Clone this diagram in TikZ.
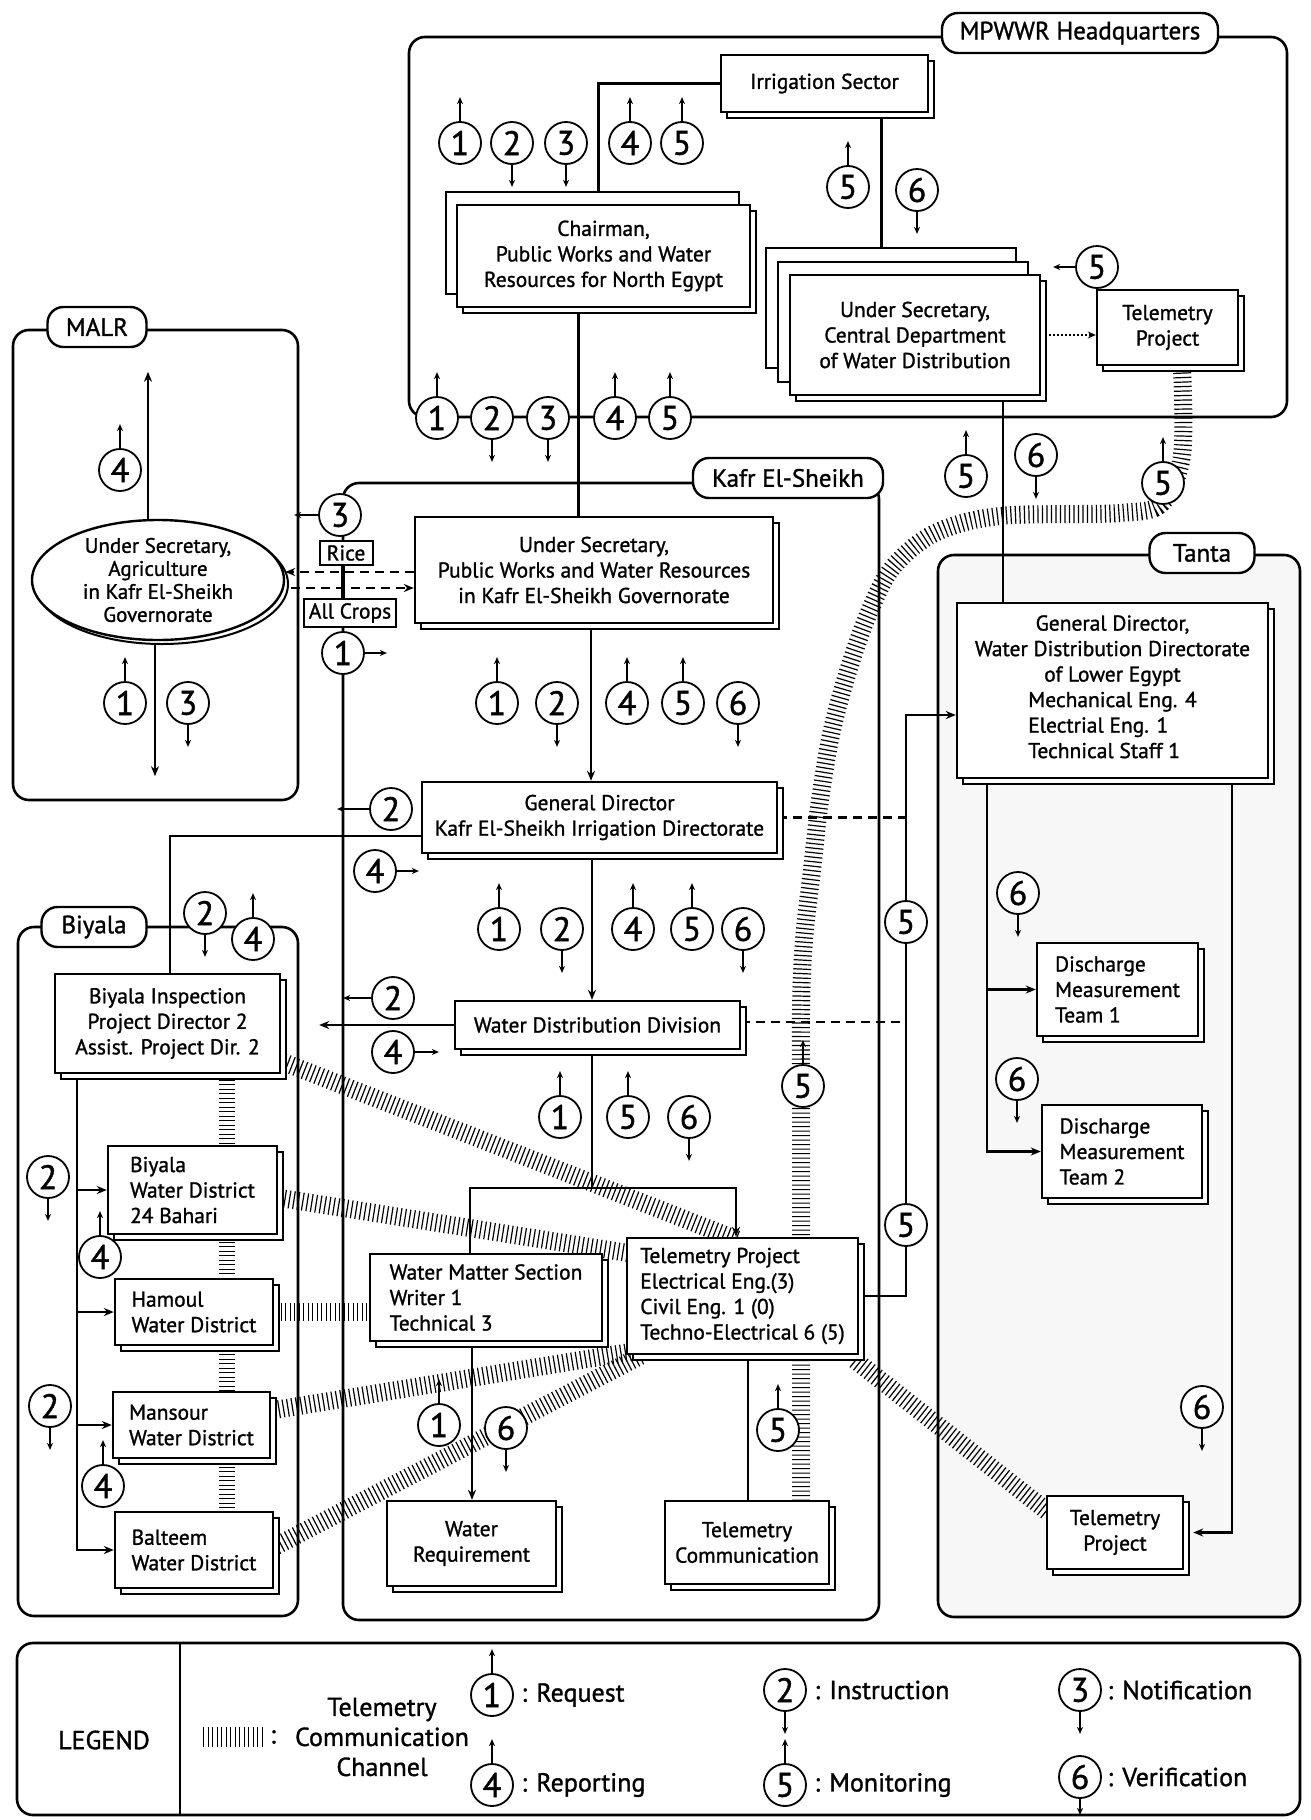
\documentclass[tikz,border=0pt]{standalone}
\usepackage{fontspec}
\setmainfont{PT Sans}[FakeBold=1.2]
\usetikzlibrary{arrows.meta,shapes.geometric,shadows,calc}
\pgfdeclarelayer{back}
\pgfdeclarelayer{chan}
\pgfdeclarelayer{lines}
\pgfsetlayers{back,chan,lines,main}
\newcommand\bxf{\fontsize{21.5}{25.5}\selectfont}
\newcommand\nmf{\fontsize{34}{34}\selectfont}
\newcommand\plf{\fontsize{25}{27}\selectfont}
\newcommand\lgf{\fontsize{26}{30}\selectfont}
\tikzset{
  num/.style={circle, draw, line width=1.8pt, fill=white, minimum size=42pt, inner sep=0pt, font=\nmf},
  sarr/.style={line width=1.8pt, -{Stealth[length=7pt,width=6pt]}},
  conn/.style={line width=2.6pt},
  carr/.style={conn, -{Stealth[length=10pt,width=8pt]}},
  shd/.style={copy shadow={shadow xshift=6pt, shadow yshift=-6pt, draw=black, fill=white, line width=2pt}},
  stkA/.style={copy shadow={shadow xshift=-11pt, shadow yshift=13pt, draw=black, fill=white, line width=2.2pt}},
  stkB/.style={copy shadow={shadow xshift=-24pt, shadow yshift=27pt, draw=black, fill=white, line width=2.2pt},
               copy shadow={shadow xshift=-12pt, shadow yshift=13pt, draw=black, fill=white, line width=2.2pt}},
  box/.style={draw, fill=white, line width=2.4pt, inner sep=4pt, align=center, font=\bxf, shd},
  lbox/.style={box, align=left},
  cont/.style={draw, line width=2.6pt, rounded corners=16pt},
  pill/.style={draw, fill=white, line width=2.4pt, rounded corners=16pt, font=\plf, minimum height=40pt, inner xsep=12pt},
  tele/.style={line width=18pt, dash pattern=on 1.2pt off 3.3pt},
  dsh/.style={line width=2.2pt, dash pattern=on 9pt off 6pt},
  darr/.style={dsh, -{Stealth[length=10pt,width=8pt]}},
  dotarr/.style={line width=2pt, dash pattern=on 2pt off 2pt, -{Stealth[length=8pt,width=7pt]}},
}
\newcommand\numU[3]{\node[num] (#1) at (#2) {#3}; \draw[sarr] (#1.north) -- ++(0,-24);}
\newcommand\numD[3]{\node[num] (#1) at (#2) {#3}; \draw[sarr] (#1.south) -- ++(0,22);}
\newcommand\numN[3]{\node[num] (#1) at (#2) {#3};}
\begin{document}
\begin{tikzpicture}[x=1pt,y=-1pt]
\useasboundingbox (0,0) rectangle (1311,1820);

% ---------- containers ----------
\begin{pgfonlayer}{back}
\draw[cont] (409,37) rectangle (1287,417);
\draw[cont] (13,330) rectangle (298,800);
\draw[cont] (343,483) rectangle (879,1620);
\draw[cont] (18,927) rectangle (298,1616);
\draw[cont, fill=black!3] (938,555) rectangle (1300,1617);
\draw[cont] (17,1643) rectangle (1300,1815);
\draw[conn] (180,1643) -- (180,1815);
\end{pgfonlayer}

% ---------- container labels ----------
\node[pill, minimum width=276pt] (hq) at (1080,33) {MPWWR Headquarters};
\node[pill, minimum width=99pt] (malrl) at (97,327) {MALR};
\node[pill, minimum width=190pt] (kafrl) at (788,478) {Kafr El-Sheikh};
\node[pill, minimum width=105pt] (biyl) at (94,927) {Biyala};
\node[pill, minimum width=105pt] (tantal) at (1202,553) {Tanta};

% ---------- boxes ----------
\node[box, minimum width=207pt, minimum height=57pt] (irr) at (824.5,83.5) {Irrigation Sector};
\node[stkA, box, minimum width=293pt, minimum height=102pt] (chair) at (603.5,256) {Chairman,\\Public Works and Water\\Resources for North Egypt};
\node[stkB, box, minimum width=250pt, minimum height=120pt] (central) at (915,335) {Under Secretary,\\Central Department\\of Water Distribution};
\node[box, minimum width=141pt, minimum height=75pt] (ttop) at (1167.5,327.5) {Telemetry\\Project};

\node[ellipse, draw, fill=white, line width=2.4pt, minimum width=252pt, minimum height=120pt, inner sep=0pt, align=center, font=\fontsize{21}{23}\selectfont, copy shadow={shadow xshift=4pt, shadow yshift=-4pt, draw=black, fill=white, line width=2pt}] (malr) at (158,580) {Under Secretary,\\Agriculture\\in Kafr El-Sheikh\\Governorate};

\node[draw, fill=white, line width=2pt, font=\bxf, inner sep=2pt, minimum width=53pt, minimum height=24pt] (rice) at (346,553) {Rice};
\node[draw, fill=white, line width=2pt, font=\bxf, inner sep=2pt, minimum width=92pt, minimum height=28pt] (allc) at (350,613) {All Crops};

\node[box, minimum width=358pt, minimum height=106pt] (kus) at (594,570) {Under Secretary,\\Public Works and Water Resources\\in Kafr El-Sheikh Governorate};
\node[box, minimum width=355pt, minimum height=71pt] (gdk) at (599.5,817.5) {General Director\\Kafr El-Sheikh Irrigation Directorate};
\node[box, minimum width=285pt, minimum height=48pt] (wdd) at (597.5,1025) {Water Distribution Division};
\node[lbox, minimum width=232pt, minimum height=87pt] (wms) at (486,1297.5) {Water Matter Section\\Writer 1\\Technical 3};
\node[lbox, minimum width=231pt, minimum height=116pt] (tpk) at (742.5,1296) {Telemetry Project\\Electrical Eng.(3)\\Civil Eng. 1 (0)\\Techno-Electrical 6 (5)};
\node[box, minimum width=169pt, minimum height=85pt] (wr) at (471.5,1543.5) {Water\\Requirement};
\node[box, minimum width=164pt, minimum height=83pt] (tc) at (747,1542.5) {Telemetry\\Communication};

\node[box, minimum width=225pt, minimum height=99pt] (bins) at (167.5,1023.5) {Biyala Inspection\\Project Director 2\\Assist. Project Dir. 2};
\node[lbox, minimum width=169pt, minimum height=88pt] (bwd) at (192.5,1190) {Biyala\\Water District\\24 Bahari};
\node[lbox, minimum width=158pt, minimum height=66pt] (ham) at (194,1312) {Hamoul\\Water District};
\node[lbox, minimum width=157pt, minimum height=66pt] (man) at (191.5,1425) {Mansour\\Water District};
\node[lbox, minimum width=158pt, minimum height=76pt] (bal) at (194,1550) {Balteem\\Water District};

\node[box, minimum width=311pt, minimum height=175pt] (tgd) at (1112.5,690.5) {General Director,\\Water Distribution Directorate\\of Lower Egypt\\\begin{tabular}[t]{@{}l@{}}Mechanical Eng. 4\\Electrial Eng. 1\\Technical Staff 1\end{tabular}};
\node[lbox, minimum width=161pt, minimum height=93pt] (dm1) at (1117.5,989.5) {Discharge\\Measurement\\Team 1};
\node[lbox, minimum width=160pt, minimum height=93pt] (dm2) at (1122,1151.5) {Discharge\\Measurement\\Team 2};
\node[box, minimum width=136pt, minimum height=73pt] (ttan) at (1115,1532.5) {Telemetry\\Project};

% ---------- telemetry channels ----------
\begin{pgfonlayer}{chan}
\draw[tele] plot[smooth, tension=0.55] coordinates {(1182,368) (1182,455) (1162,503) (1120,513) (1000,516) (935,533) (893,567) (870,610) (850,665) (832,730) (820,800) (812,870) (804,940) (801,1010) (801,1100)} -- (801,1502);
\draw[tele] (283,1062) -- (738,1240);
\draw[tele] (280,1198) -- (628,1253);
\draw[tele] (276,1312) -- (370,1312);
\draw[tele] (274,1410) -- (630,1352);
\draw[tele] (276,1546) -- (640,1356);
\draw[tele] (855,1360) -- (1048,1512);
\draw[tele, line width=16pt] (227,1075) -- (227,1512);
\draw[tele, line width=20pt] (203,1737) -- (262,1737);
\end{pgfonlayer}

% ---------- connectors ----------
\coordinate (v5top) at (906,715);
\coordinate (v5bot) at (906,1296);
\coordinate (br) at (592,1188);
\begin{pgfonlayer}{lines}
\draw[conn] (irr.west) -| ([xshift=-5pt,yshift=13pt]chair.north);
\draw[conn] ([xshift=57pt]irr.south) -- ([xshift=57pt]irr.south |- central.north);
\draw[conn] ([xshift=-25pt]chair.south) -- ([xshift=-25pt]chair.south |- kus.north);
\draw[conn] ([xshift=88pt]central.south) -- ([xshift=88pt]central.south |- tgd.north);
\draw[dotarr] (central.east) -- (central.east -| ttop.west);
\draw[carr] ([xshift=-10pt]malr.north) -- ++(0,-147);
\draw[carr] ([xshift=-3pt]malr.south) -- ++(0,135);
\draw[darr] ([yshift=-2pt]kus.west) -- ([yshift=-2pt]kus.west -| malr.east);
\draw[darr] ([xshift=6pt,yshift=-18pt]kus.west -| malr.east) -- ([yshift=-18pt]kus.west);
\draw[line width=4.5pt] (rice.south -| 343,0) -- (allc.north -| 343,0);
\draw[carr] ([xshift=-3pt]kus.south) -- ([xshift=-3pt]kus.south |- gdk.north);
\draw[conn] ([yshift=-18.5pt]gdk.west) -| ([xshift=2.5pt]bins.north);
\draw[dsh] (gdk.east) -- (gdk.east -| v5top);
\draw[carr] ([xshift=-7.5pt]gdk.south) -- ([xshift=-7.5pt]gdk.south |- wdd.north);
\draw[carr] (wdd.west) -- ([xshift=38pt]bins.east |- wdd.west);
\draw[dsh] ([yshift=3pt]wdd.east) -- ([yshift=3pt]wdd.east -| v5top);
\draw[conn] ([xshift=-5.5pt]wdd.south) -- (br);
\draw[carr] ([xshift=-16pt]wms.north) |- (br) -| ([xshift=-6.5pt]tpk.north);
\draw[carr] ([xshift=-14pt]wms.south) -- ([xshift=-14pt]wms.south |- wr.north);
\draw[conn] ([xshift=5.5pt]tpk.south) -- ([xshift=5.5pt]tpk.south |- tc.north);
\draw[carr] (tpk.east |- v5bot) -- (v5bot) -- (v5top) -- (v5top -| tgd.west);
\draw[carr] ([xshift=-125.5pt]tgd.south) |- (dm1.west);
\draw[carr] ([xshift=-125.5pt]tgd.south) |- (dm2.west);
\draw[carr] ([xshift=119.5pt]tgd.south) |- ([xshift=9pt]ttan.east);
\draw[carr] ([xshift=-90.5pt]bins.south) |- (bwd.west);
\draw[carr] ([xshift=-90.5pt]bins.south) |- (ham.west);
\draw[carr] ([xshift=-90.5pt]bins.south) |- (man.west);
\draw[carr] ([xshift=-90.5pt]bins.south) |- (bal.west);
\end{pgfonlayer}

% ---------- numbered circles ----------
\numU{t1}{460,143}{1} \numD{t2}{512,143}{2} \numD{t3}{566,143}{3} \numU{t4}{630,143}{4} \numU{t5}{682,143}{5}
\numU{t5b}{848,187}{5} \numD{t6b}{917,190}{6}
\numN{t5c}{1097,267}{5} \draw[sarr] (t5c.west) -- ++(-22,0);
\numU{b1}{437,418}{1} \numD{b2}{492,418}{2} \numD{b3}{548,418}{3} \numU{b4}{615,418}{4} \numU{b5}{670,418}{5}
\numU{m5}{966,476}{5} \numD{m6}{1036,455}{6}
\numU{ch5}{1163,483}{5}
\numU{a4}{120,470}{4} \numU{a1}{125,703}{1} \numD{a3}{188,703}{3}
\numN{k3}{340,515}{3} \draw[sarr] (k3.west) -- ++(-24,0);
\numN{k1}{343,653}{1} \draw[sarr] (k1.east) -- ++(22,0);
\numU{r1}{497,703}{1} \numD{r2}{557,703}{2} \numU{r4}{627,703}{4} \numU{r5}{683,703}{5} \numD{r6}{738,703}{6}
\numN{g2}{391,809}{2} \draw[sarr] (g2.west) -- ++(-32,0);
\numN{g4}{375,871}{4} \draw[sarr] (g4.east) -- ++(22,0);
\numU{s1}{499,929}{1} \numD{s2}{562,929}{2} \numU{s4}{633,929}{4} \numU{s5}{692,929}{5} \numD{s6}{743,929}{6}
\numN{w2}{393,998}{2} \draw[sarr] (w2.west) -- ++(-28,0);
\numN{w4}{393,1052}{4} \draw[sarr] (w4.east) -- ++(24,0);
\numU{u1}{560,1117}{1} \numU{u5}{628,1117}{5} \numD{u6}{689,1117}{6}
\numU{q1}{439,1425}{1} \numD{q6}{506,1428}{6}
\numU{q5}{778,1430}{5}
\numU{cc5}{803,1086}{5}
\numN{v5a}{906,922}{5} \numN{v5b}{906,1225}{5}
\numD{d6a}{1018,893}{6} \numD{d6b}{1017,1079}{6} \numD{d6c}{1202,1407}{6}
\numD{y2}{205,913}{2} \numU{y4}{253,939}{4}
\numD{z2a}{48,1177}{2} \numU{z4a}{100,1257}{4}
\numD{z2b}{50,1406}{2} \numU{z4b}{103,1486}{4}

% ---------- legend ----------
\node[font=\lgf] (leg) at (104,1740) {LEGEND};
\node[font=\lgf] (colon) at (273,1737) {:};
\node[font=\lgf, align=center] (tlt) at (382,1737) {Telemetry\\Communication\\Channel};
\numU{L1}{492,1695}{1} \node[font=\lgf, anchor=west] (L1t) at ([xshift=4pt]L1.east) {: Request};
\numU{L4}{492,1785}{4} \node[font=\lgf, anchor=west] (L4t) at ([xshift=4pt]L4.east) {: Reporting};
\numD{L2}{785,1690}{2} \node[font=\lgf, anchor=west] (L2t) at ([xshift=4pt]L2.east) {: Instruction};
\numU{L5}{785,1785}{5} \node[font=\lgf, anchor=west] (L5t) at ([xshift=4pt]L5.east) {: Monitoring};
\numD{L3}{1080,1690}{3} \node[font=\lgf, anchor=west] (L3t) at ([xshift=2pt]L3.east) {: Notification};
\node[num] (L6) at (1080,1777) {6}; \draw[sarr] (L6.south) -- ++(0,16);
\node[font=\lgf, anchor=west] (L6t) at ([xshift=2pt]L6.east) {: Verification};
\end{tikzpicture}
\end{document}
